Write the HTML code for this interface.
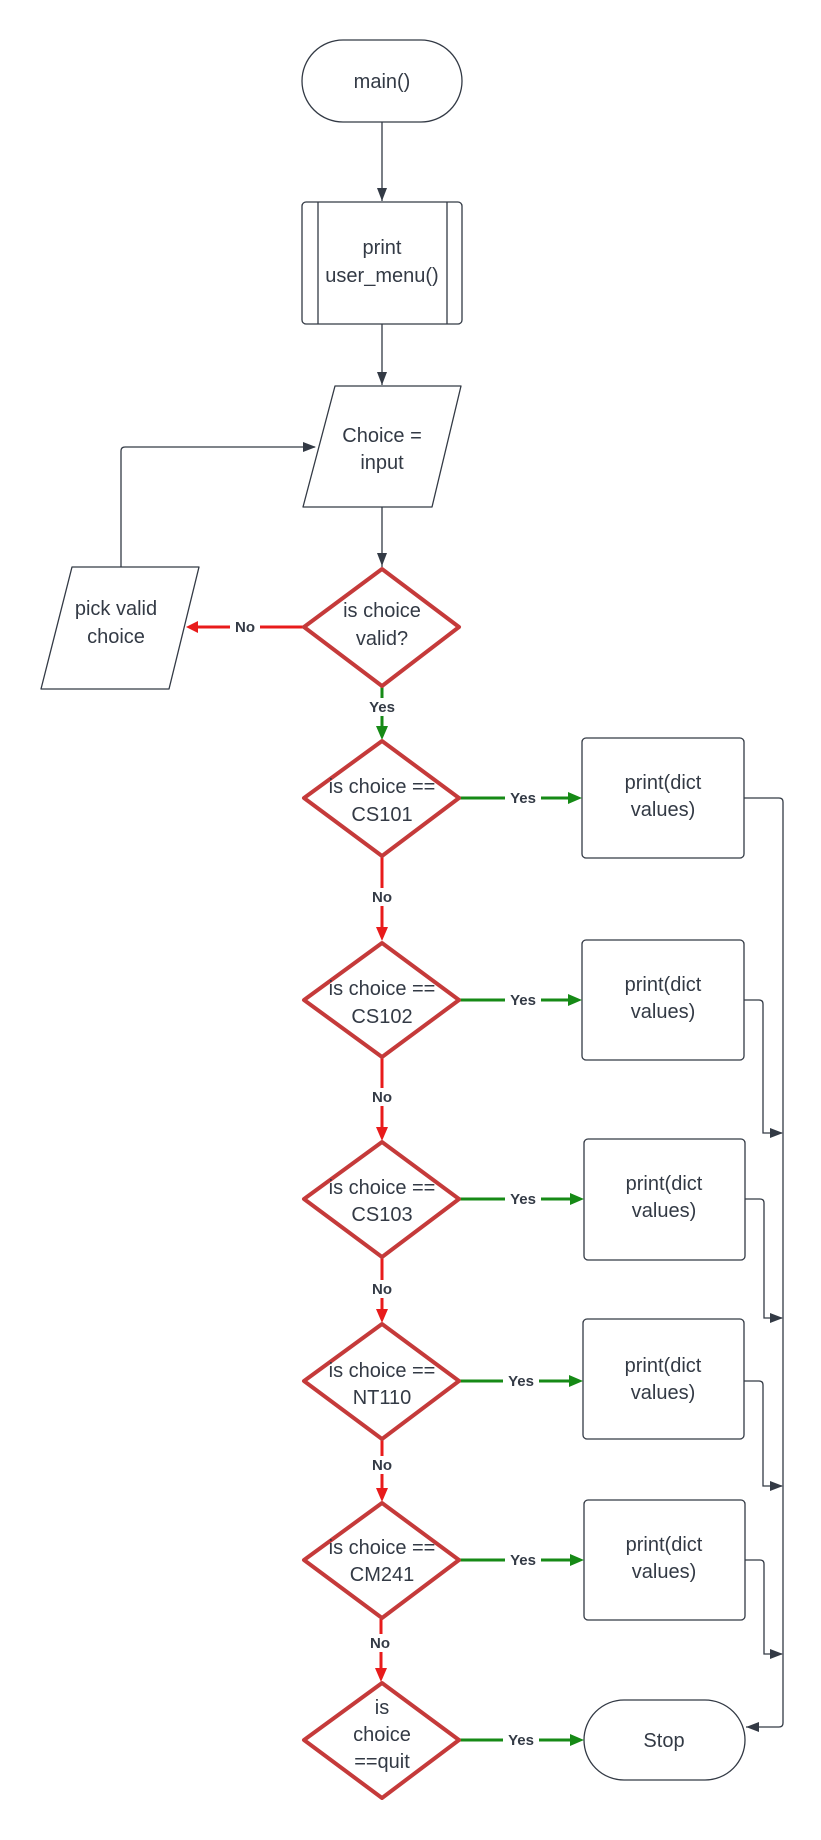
<!DOCTYPE html>
<html><head><meta charset="utf-8"><style>
html,body{margin:0;padding:0;background:#fff;}
svg{display:block;}
.n{font-family:"Liberation Sans",sans-serif;font-size:20px;fill:#333a45;text-anchor:middle;}
.l{font-family:"Liberation Sans",sans-serif;font-size:15px;font-weight:bold;fill:#333a45;text-anchor:middle;}
</style></head><body>
<svg width="821" height="1840" viewBox="0 0 821 1840" xmlns="http://www.w3.org/2000/svg">
<g fill="none" stroke="#333a45" stroke-width="1.3">
<rect x="302" y="40" width="160" height="82" rx="41"/>
<rect x="302" y="202" width="160" height="122" rx="4"/>
<line x1="318" y1="202" x2="318" y2="324"/><line x1="447" y1="202" x2="447" y2="324"/>
<path d="M335,386 L461,386 L432,507 L303,507 Z" stroke-linejoin="round"/>
<path d="M72,567 L199,567 L169,689 L41,689 Z" stroke-linejoin="round"/>
<rect x="582" y="738" width="162" height="120" rx="4"/>
<rect x="582" y="940" width="162" height="120" rx="4"/>
<rect x="584" y="1139" width="161" height="121" rx="4"/>
<rect x="583" y="1319" width="161" height="120" rx="4"/>
<rect x="584" y="1500" width="161" height="120" rx="4"/>
<rect x="584" y="1700" width="161" height="80" rx="40"/>
</g>
<g fill="none" stroke="#333a45" stroke-width="1.3">
<line x1="382" y1="122" x2="382" y2="201"/>
<line x1="382" y1="324" x2="382" y2="385"/>
<line x1="382" y1="507" x2="382" y2="567"/>
<path d="M121,567 L121,451 Q121,447 125,447 L315,447"/>
<path d="M744,798 L779,798 Q783,798 783,802 L783,1723 Q783,1727 779,1727 L746,1727"/>
<path d="M744,1000 L759,1000 Q763,1000 763,1004 L763,1133 L782,1133"/>
<path d="M745,1199 L760,1199 Q764,1199 764,1203 L764,1318 L782,1318"/>
<path d="M744,1381 L759,1381 Q763,1381 763,1385 L763,1486 L782,1486"/>
<path d="M745,1560 L760,1560 Q764,1560 764,1564 L764,1654 L782,1654"/>
</g>
<g fill="#333a45">
<path d="M377,188 L387,188 L382,201z"/>
<path d="M377,372 L387,372 L382,385z"/>
<path d="M377,553 L387,553 L382,566z"/>
<path d="M303,442 L303,452 L316,447z"/>
<path d="M770,1128 L770,1138 L783,1133z"/>
<path d="M770,1313 L770,1323 L783,1318z"/>
<path d="M770,1481 L770,1491 L783,1486z"/>
<path d="M770,1649 L770,1659 L783,1654z"/>
<path d="M759,1722 L759,1732 L746,1727z"/>
</g>
<g stroke="#e81b1b" stroke-width="3" fill="none">
<line x1="304" y1="627" x2="196" y2="627"/>
<line x1="382" y1="857" x2="382" y2="927"/>
<line x1="382" y1="1058" x2="382" y2="1127"/>
<line x1="382" y1="1258" x2="382" y2="1310"/>
<line x1="382" y1="1440" x2="382" y2="1488"/>
<line x1="381" y1="1619" x2="381" y2="1668"/>
</g>
<g fill="#e81b1b">
<path d="M198,621 L198,633 L186,627z"/>
<path d="M376,927 L388,927 L382,941z"/>
<path d="M376,1127 L388,1127 L382,1141z"/>
<path d="M376,1309 L388,1309 L382,1323z"/>
<path d="M376,1488 L388,1488 L382,1502z"/>
<path d="M375,1668 L387,1668 L381,1682z"/>
</g>
<g stroke="#168a16" stroke-width="3" fill="none">
<line x1="382" y1="687" x2="382" y2="727"/>
<line x1="459" y1="798" x2="570" y2="798"/>
<line x1="459" y1="1000" x2="570" y2="1000"/>
<line x1="460" y1="1199" x2="572" y2="1199"/>
<line x1="459" y1="1381" x2="571" y2="1381"/>
<line x1="460" y1="1560" x2="572" y2="1560"/>
<line x1="459" y1="1740" x2="572" y2="1740"/>
</g>
<g fill="#168a16">
<path d="M568,792 L568,804 L582,798z"/>
<path d="M376,726 L388,726 L382,740z"/>
<path d="M568,994 L568,1006 L582,1000z"/>
<path d="M570,1193 L570,1205 L584,1199z"/>
<path d="M569,1375 L569,1387 L583,1381z"/>
<path d="M570,1554 L570,1566 L584,1560z"/>
<path d="M570,1734 L570,1746 L584,1740z"/>
</g>
<g fill="#fff" stroke="#c53a3a" stroke-width="4" stroke-linejoin="round">
<path d="M382,569 L459,627 L382,686 L304,627 Z"/>
<path d="M382,741 L459,798 L382,856 L304,798 Z"/>
<path d="M382,943 L459,1000 L382,1057 L304,1000 Z"/>
<path d="M382,1142 L459,1199 L382,1257 L304,1199 Z"/>
<path d="M382,1324 L459,1381 L382,1439 L304,1381 Z"/>
<path d="M382,1503 L459,1560 L382,1618 L304,1560 Z"/>
<path d="M382,1683 L459,1740 L382,1798 L304,1740 Z"/>
</g>
<g fill="#fff">
<rect x="230" y="618" width="30" height="18"/>
<rect x="364" y="698" width="36" height="18"/>
<rect x="365" y="888" width="34" height="18"/><rect x="365" y="1088" width="34" height="18"/>
<rect x="365" y="1280" width="34" height="18"/><rect x="365" y="1456" width="34" height="18"/><rect x="364" y="1634" width="34" height="18"/>
<rect x="505" y="789" width="36" height="16"/><rect x="505" y="991" width="36" height="16"/><rect x="505" y="1190" width="36" height="16"/>
<rect x="503" y="1372" width="36" height="16"/><rect x="505" y="1551" width="36" height="16"/><rect x="503" y="1731" width="36" height="16"/>
</g>
<g class="n">
<text x="382" y="88">main()</text>
<text x="382" y="254">print</text><text x="382" y="282">user_menu()</text>
<text x="382" y="442">Choice =</text><text x="382" y="469">input</text>
<text x="116" y="615">pick valid</text><text x="116" y="643">choice</text>
<text x="382" y="617">is choice</text><text x="382" y="645">valid?</text>
<text x="382" y="793">is choice ==</text><text x="382" y="821">CS101</text>
<text x="382" y="995">is choice ==</text><text x="382" y="1023">CS102</text>
<text x="382" y="1194">is choice ==</text><text x="382" y="1221">CS103</text>
<text x="382" y="1377">is choice ==</text><text x="382" y="1404">NT110</text>
<text x="382" y="1554">is choice ==</text><text x="382" y="1581">CM241</text>
<text x="382" y="1714">is</text><text x="382" y="1741">choice</text><text x="382" y="1768">==quit</text>
<text x="663" y="789">print(dict</text><text x="663" y="816">values)</text>
<text x="663" y="991">print(dict</text><text x="663" y="1018">values)</text>
<text x="664" y="1190">print(dict</text><text x="664" y="1217">values)</text>
<text x="663" y="1372">print(dict</text><text x="663" y="1399">values)</text>
<text x="664" y="1551">print(dict</text><text x="664" y="1578">values)</text>
<text x="664" y="1747">Stop</text>
</g>
<g class="l">
<text x="245" y="632">No</text>
<text x="382" y="712">Yes</text>
<text x="382" y="902">No</text><text x="382" y="1102">No</text><text x="382" y="1294">No</text><text x="382" y="1470">No</text><text x="380" y="1648">No</text>
<text x="523" y="803">Yes</text><text x="523" y="1005">Yes</text><text x="523" y="1204">Yes</text>
<text x="521" y="1386">Yes</text><text x="523" y="1565">Yes</text><text x="521" y="1745">Yes</text>
</g>
</svg>
</body></html>
